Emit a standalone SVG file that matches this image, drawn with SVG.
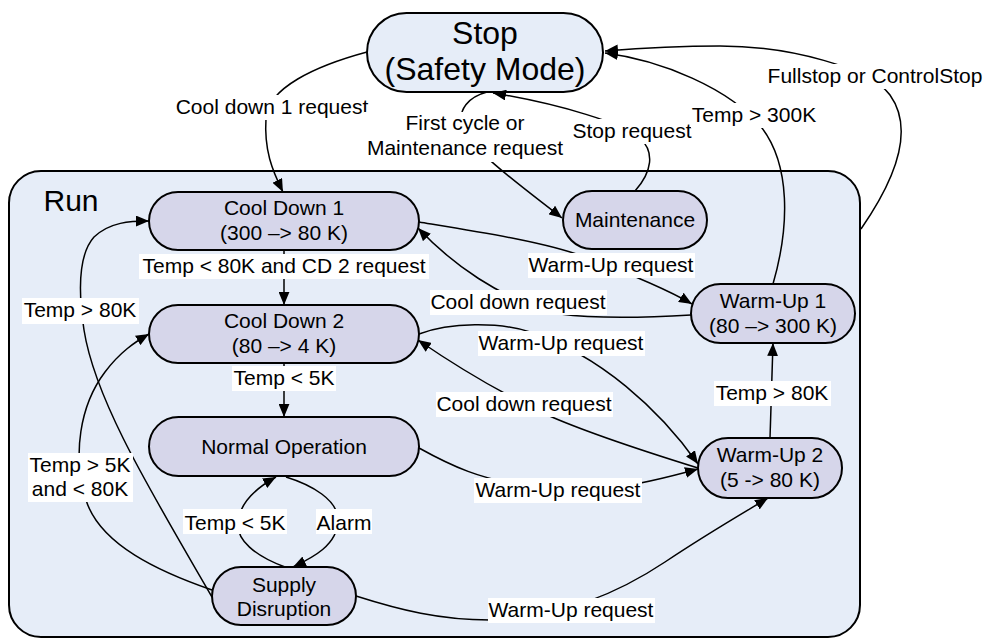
<svg xmlns="http://www.w3.org/2000/svg" width="987" height="638" viewBox="0 0 987 638">
<defs>
<style>
text{font-family:"Liberation Sans",Arial,sans-serif;font-size:21px;fill:#000;text-anchor:middle}
.node rect{fill:#d6d6ea;stroke:#000;stroke-width:2}
.edge{fill:none;stroke:#000;stroke-width:1.5}
.arr{marker-end:url(#ah)}
.bg{fill:#fff}
</style>
<marker id="ah" viewBox="0 0 12 10" refX="12" refY="5" markerWidth="13" markerHeight="11" orient="auto" markerUnits="userSpaceOnUse"><path d="M0,0 L12,5 L0,10 z" fill="#000"/></marker>
</defs>
<rect width="987" height="638" fill="#fff"/>
<g id="run">
<rect x="9" y="171" width="851" height="466" rx="32" fill="#e6edf8" stroke="#000" stroke-width="2"/>
<text x="71" y="211" style="font-size:30px">Run</text>
</g>
<g id="stop">
<rect x="367" y="13" width="236" height="79" rx="39.5" fill="#e6edf8" stroke="#000" stroke-width="2"/>
<text x="485" y="44" style="font-size:32px">Stop</text>
<text x="485" y="80" style="font-size:32px">(Safety Mode)</text>
</g>
<g id="connectors">
<path class="edge arr" d="M367,52 C315,66 268,88 266,118 C264,150 272,170 283,192"/>
<path class="edge arr" d="M487,92 C468,97 458,110 462,125 C468,148 520,185 562,218"/>
<path class="edge arr" d="M635,191 C652,172 655,152 640,138 C625,124 560,104 493,93"/>
<path class="edge arr" d="M773,284 C790,225 790,165 762,128 C730,88 660,60 605,53"/>
<path class="edge arr" d="M861,229 C895,180 915,130 890,95 C870,68 790,46 720,46 C670,46 630,49 605,51"/>
<path class="edge arr" d="M419,222 C480,232 545,242 585,257 C625,272 665,288 692,304"/>
<path class="edge arr" d="M691,315 C640,318 590,318 560,314 C500,300 450,262 418,228"/>
<path class="edge arr" d="M419,334 C450,322 500,322 530,332 C600,355 660,410 698,464"/>
<path class="edge arr" d="M698,468 C640,450 585,432 545,414 C495,390 450,362 418,340"/>
<path class="edge arr" d="M419,448 C455,468 480,478 520,485 C590,497 640,485 698,469"/>
<path class="edge arr" d="M356,596 C400,610 440,620 490,620 C560,618 620,592 665,562 C710,532 745,512 768,498"/>
<path class="edge arr" d="M770,438 L773,343"/>
<path class="edge arr" d="M284,250 L284,305"/>
<path class="edge arr" d="M284,363 L284,417"/>
<path class="edge arr" d="M285,567 C255,556 236,540 238,522 C240,502 258,487 276,477"/>
<path class="edge arr" d="M286,477 C312,485 338,500 338,520 C338,545 312,558 293,567"/>
<path class="edge arr" d="M212,597 C150,490 95,400 84,330 C78,290 78,255 94,237 C110,222 130,221 149,221"/>
<path class="edge arr" d="M212,590 C160,572 100,545 86,500 C72,455 80,405 105,372 C120,352 135,342 149,334"/>
</g>
<g id="labels">
<rect class="bg" x="173" y="95" width="197" height="25"/><text x="272" y="114">Cool down 1 request</text>
<rect class="bg" x="364" y="112" width="202" height="50"/><text x="465" y="130">First cycle or</text><text x="465" y="155">Maintenance request</text>
<rect class="bg" x="571" y="119" width="122" height="25"/><text x="632" y="138">Stop request</text>
<rect class="bg" x="691" y="103" width="127" height="25"/><text x="754" y="122">Temp &gt; 300K</text>
<rect class="bg" x="767" y="64" width="217" height="25"/><text x="875" y="83">Fullstop or ControlStop</text>
<rect class="bg" x="139" y="254" width="290" height="25"/><text x="284" y="273">Temp &lt; 80K and CD 2 request</text>
<rect class="bg" x="22" y="298" width="117" height="26"/><text x="80" y="317">Temp &gt; 80K</text>
<rect class="bg" x="528" y="253" width="167" height="25"/><text x="611" y="272">Warm-Up request</text>
<rect class="bg" x="430" y="290" width="177" height="25"/><text x="518" y="309">Cool down request</text>
<rect class="bg" x="478" y="331" width="167" height="25"/><text x="561" y="350">Warm-Up request</text>
<rect class="bg" x="436" y="392" width="177" height="25"/><text x="524" y="411">Cool down request</text>
<rect class="bg" x="474" y="478" width="168" height="25"/><text x="558" y="497">Warm-Up request</text>
<rect class="bg" x="488" y="598" width="167" height="25"/><text x="571" y="617">Warm-Up request</text>
<rect class="bg" x="714" y="381" width="117" height="25"/><text x="772" y="400">Temp &gt; 80K</text>
<rect class="bg" x="232" y="366" width="104" height="25"/><text x="284" y="385">Temp &lt; 5K</text>
<rect class="bg" x="183" y="509" width="104" height="25"/><text x="235" y="530">Temp &lt; 5K</text>
<rect class="bg" x="316" y="509" width="56" height="25"/><text x="344" y="530">Alarm</text>
<rect class="bg" x="28" y="453" width="105" height="49"/><text x="80" y="472">Temp &gt; 5K</text><text x="80" y="496">and &lt; 80K</text>
</g>
<g id="cd1" class="node"><rect x="149" y="192" width="270" height="58" rx="29"/><text x="284" y="215">Cool Down 1</text><text x="284" y="240">(300 –&gt; 80 K)</text></g>
<g id="cd2" class="node"><rect x="149" y="305" width="270" height="58" rx="29"/><text x="284" y="328">Cool Down 2</text><text x="284" y="353">(80 –&gt; 4 K)</text></g>
<g id="normal" class="node"><rect x="149" y="417" width="270" height="59" rx="29.5"/><text x="284" y="454">Normal Operation</text></g>
<g id="supply" class="node"><rect x="212" y="567" width="144" height="58" rx="29"/><text x="284" y="592">Supply</text><text x="284" y="616">Disruption</text></g>
<g id="maint" class="node"><rect x="563" y="191" width="144" height="58" rx="29"/><text x="635" y="227">Maintenance</text></g>
<g id="wu1" class="node"><rect x="691" y="284" width="164" height="59" rx="29.5"/><text x="773" y="308">Warm-Up 1</text><text x="773" y="333">(80 –&gt; 300 K)</text></g>
<g id="wu2" class="node"><rect x="698" y="438" width="144" height="60" rx="30"/><text x="770" y="462">Warm-Up 2</text><text x="770" y="487">(5 -&gt; 80 K)</text></g>
</svg>
